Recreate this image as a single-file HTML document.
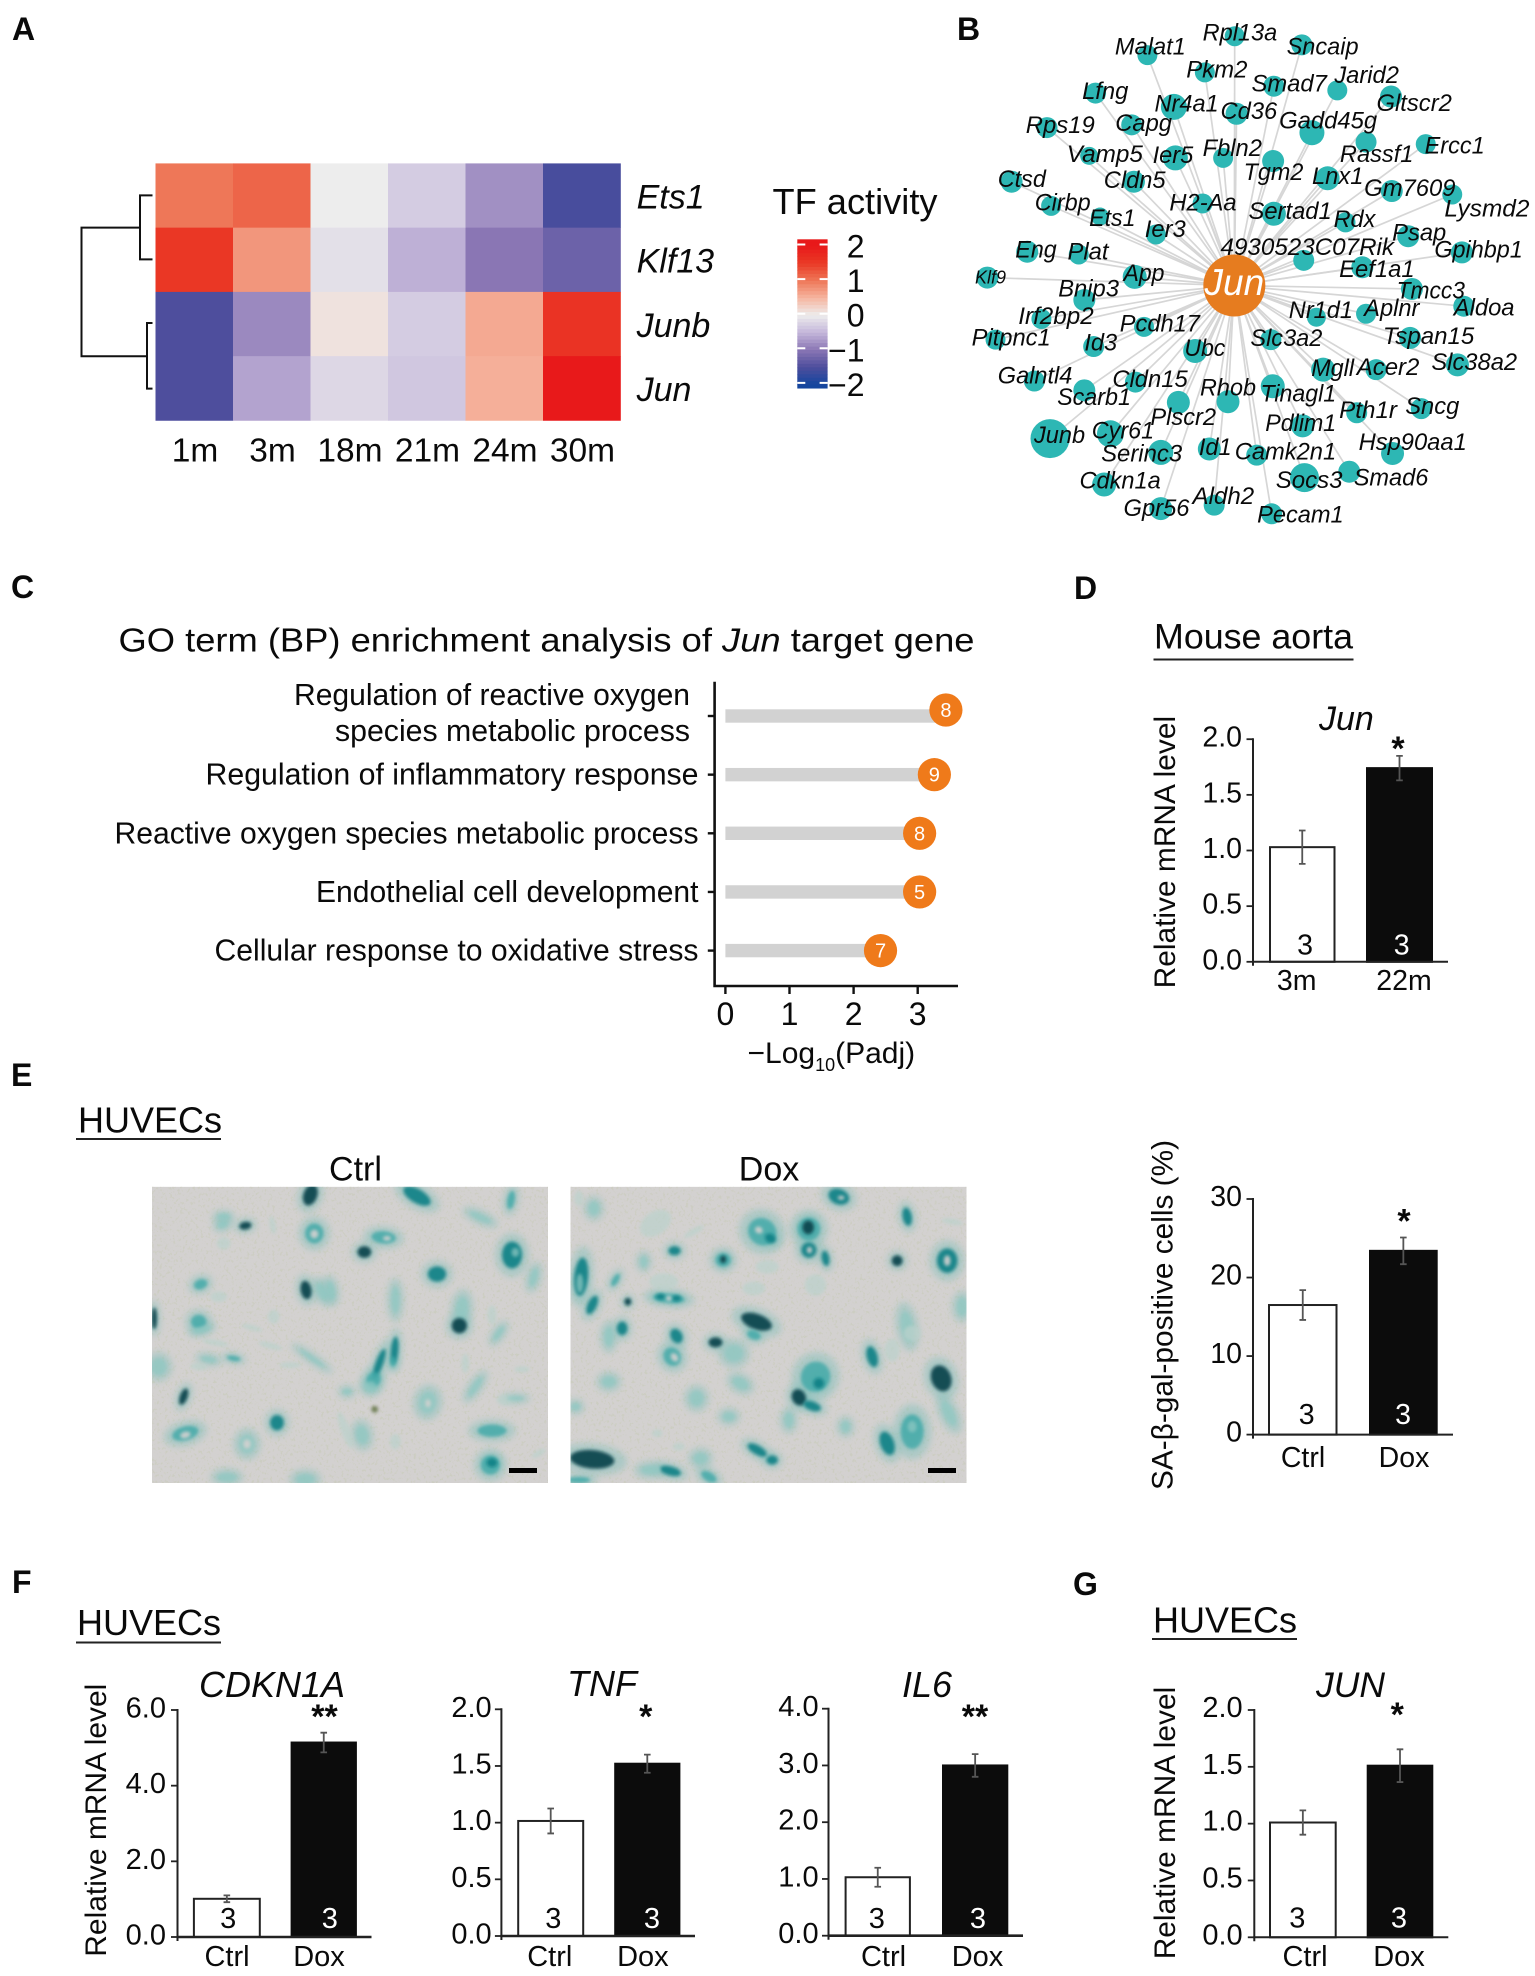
<!DOCTYPE html>
<html lang="en">
<head>
<meta charset="utf-8">
<title>Jun transcription factor activity figure</title>
<style>
html,body{margin:0;padding:0;background:#fff}
svg{display:block}
text{font-family:"Liberation Sans",sans-serif;fill:#0a0a0a}
.pl{font-weight:700;font-size:32px}
</style>
</head>
<body>
<svg id="fig" xmlns="http://www.w3.org/2000/svg" width="1535" height="1976" viewBox="0 0 1535 1976">
<defs>
<filter id="soft" x="-60%" y="-60%" width="220%" height="220%"><feGaussianBlur stdDeviation="5"/></filter>
<filter id="softer" x="-80%" y="-80%" width="260%" height="260%"><feGaussianBlur stdDeviation="10"/></filter>
<filter id="speck" x="0" y="0" width="100%" height="100%">
<feTurbulence type="fractalNoise" baseFrequency="0.13 0.11" numOctaves="3" seed="7"/>
<feColorMatrix type="matrix" values="0 0 0 0 0.58  0 0 0 0 0.60  0 0 0 0 0.48  7 0 0 0 -3.9"/>
</filter>
</defs>
<rect x="0" y="0" width="1535" height="1976" fill="#fff"/>

<text class="pl" x="12" y="40">A</text>
<text class="pl" x="957" y="40">B</text>
<text class="pl" x="11" y="598">C</text>
<text class="pl" x="1074" y="599">D</text>
<text class="pl" x="11" y="1086">E</text>
<text class="pl" x="12" y="1593">F</text>
<text class="pl" x="1073" y="1595">G</text>

<g fill="none" stroke="#111" stroke-width="2">
<path d="M140 227.6H81.5V356.3H147"/>
<path d="M152.5 195.4H140V259.4H152.5"/>
<path d="M152.5 323H147V388.6H152.5"/>
</g>
<text x="772.5" y="214" font-size="36" textLength="165" lengthAdjust="spacingAndGlyphs">TF activity</text>

<g id="panelA"></g>
<g id="panelB"></g>

<text x="118.5" y="651.7" font-size="33.5" textLength="856" lengthAdjust="spacingAndGlyphs">GO term (BP) enrichment analysis of <tspan font-style="italic">Jun</tspan> target gene</text>
<g id="panelC"></g>
<text x="747.5" y="1063" font-size="30">−Log<tspan dy="8" font-size="18">10</tspan><tspan dy="-8">(Padj)</tspan></text>

<text x="1154" y="648.5" font-size="35" textLength="199" lengthAdjust="spacingAndGlyphs">Mouse aorta</text>
<rect x="1153.5" y="658.5" width="200" height="2" fill="#222"/>
<text x="1319" y="730" font-size="34" font-style="italic">Jun</text>
<text transform="translate(1175,988.4) rotate(-90)" font-size="30" textLength="272.5" lengthAdjust="spacingAndGlyphs">Relative mRNA level</text>
<text transform="translate(1172.7,1490) rotate(-90)" font-size="30" textLength="350" lengthAdjust="spacingAndGlyphs">SA-β-gal-positive cells (%)</text>

<text x="78" y="1132.7" font-size="36">HUVECs</text>
<rect x="76" y="1138" width="145" height="2" fill="#222"/>
<text x="355.5" y="1180.7" font-size="34" text-anchor="middle">Ctrl</text>
<text x="769" y="1180.7" font-size="34" text-anchor="middle">Dox</text>
<svg id="imgCtrl" x="152" y="1186.7" width="396" height="296.3" viewBox="0 0 1188 889" preserveAspectRatio="none"></svg>
<svg id="imgDox" x="570.5" y="1186.7" width="396" height="296.3" viewBox="0 0 1188 889" preserveAspectRatio="none"></svg>
<rect x="509" y="1468" width="28" height="5" fill="#000"/>
<rect x="928" y="1468" width="28" height="5" fill="#000"/>

<text x="77" y="1635" font-size="36">HUVECs</text>
<rect x="76" y="1641.5" width="145" height="2" fill="#222"/>
<text transform="translate(106,1956.7) rotate(-90)" font-size="30" textLength="273" lengthAdjust="spacingAndGlyphs">Relative mRNA level</text>
<text x="199" y="1697" font-size="36" font-style="italic">CDKN1A</text>
<text x="567" y="1696" font-size="36" font-style="italic">TNF</text>
<text x="902" y="1697" font-size="36" font-style="italic">IL6</text>

<text x="1153" y="1632.7" font-size="36">HUVECs</text>
<rect x="1152" y="1638" width="145" height="2" fill="#222"/>
<text x="1316" y="1697" font-size="35.5" font-style="italic">JUN</text>
<text transform="translate(1175,1959.3) rotate(-90)" font-size="30" textLength="272.6" lengthAdjust="spacingAndGlyphs">Relative mRNA level</text>

<g id="bars"></g>
</svg>

<script>
/* ---------- heatmap data ---------- */
const heatTimes = ['1m','3m','18m','21m','24m','30m'];
const heatGenes = ['Ets1','Klf13','Junb','Jun'];
const heatEts1  = [1.0, 1.15, 0, -0.3, -0.8, -1.55];
const heatKlf13 = [1.55, 0.75, -0.12, -0.55, -1.0, -1.25];
const heatJunb  = [-1.5, -0.85, 0.1, -0.3, 0.6, 1.6];
const heatJun   = [-1.5, -0.65, -0.2, -0.35, 0.55, 2];
const legendTicks = [2, 1, 0, -1, -2];
const legendTickLabels = ['2','1','0','−1','−2'];

/* ---------- network data (layout units) ---------- */
const geneNames = ['Malat1','Rpl13a','Sncaip','Pkm2','Smad7','Jarid2','Lfng','Gltscr2','Nr4a1','Cd36','Capg','Rps19','Gadd45g','Rassf1','Ercc1','Vamp5','Ier5','Fbln2','Tgm2','Lnx1','Ctsd','Cldn5','Gm7609','Lysmd2','H2-Aa','Cirbp','Ets1','Ier3','Sertad1','Rdx','Psap','Eng','Plat','4930523C07Rik','Gpihbp1','Eef1a1','Klf9','App','Bnip3','Tmcc3','Aldoa','Nr1d1','Aplnr','Irf2bp2','Pcdh17','Pitpnc1','Id3','Ubc','Slc3a2','Tspan15','Slc38a2','Mgll','Acer2','Galntl4','Scarb1','Cldn15','Rhob','Tinagl1','Plscr2','Sncg','Pth1r','Pdlim1','Junb','Cyr61','Hsp90aa1','Id1','Camk2n1','Serinc3','Socs3','Smad6','Cdkn1a','Aldh2','Gpr56','Pecam1'];
const geneLayoutX = [529,763,943,683,868,1038,390,1182,600,768,487,260,970,1115,1275,373,604,732,866,1012,165,493,1184,1346,677,271,402,552,868,1060,1228,207,345,948,1372,1105,100,495,360,1238,1377,982,1115,245,520,122,385,657,860,1233,1360,1000,1142,226,360,497,745,865,612,1263,1090,945,268,430,1186,695,822,565,950,1070,413,708,565,862];
const geneLayoutY = [160,105,130,210,250,262,270,280,310,330,362,370,385,412,418,452,458,458,467,517,527,527,554,564,590,597,628,680,620,645,685,730,738,755,732,775,805,803,870,838,888,920,910,925,948,985,1005,1018,985,980,1058,1072,1072,1105,1132,1108,1165,1120,1167,1185,1197,1235,1272,1258,1315,1302,1320,1312,1385,1368,1405,1465,1475,1490];
const geneNodeSize = [10,10,10.5,10,10.5,10,10.5,11,13,11,10.5,10.5,12.5,10.5,10,9,12.5,10,11,12,11,11,11,10,10,10,9,10,12,10,11,11,10,10.5,11,11,11,12,11,11,10.5,9.5,10,10,10,10,10.5,12,10.5,11,11.5,12,10.5,10.5,11,10.5,11.5,12,11.5,10.5,10.5,11.5,19.5,13.5,11.5,11.5,10.5,12.5,14.5,11,12,10.5,11.5,10.5];
const labelLeft  = [442,677,902,633,808,1030,354,1143,548,725,443,203,882,1045,1272,313,543,677,787,970,128,412,1110,1325,588,227,373,522,800,1028,1185,175,315,725,1298,1043,67,465,290,1197,1350,908,1110,183,455,58,360,628,805,1160,1290,968,1090,128,287,435,670,832,537,1220,1043,845,225,380,1095,667,763,405,873,1082,347,650,465,823];
const labelRight = [632,877,1095,797,1010,1203,478,1345,720,877,595,388,1145,1242,1433,517,652,836,947,1108,257,578,1355,1553,768,377,497,632,1023,1140,1330,286,425,1190,1535,1245,150,575,453,1380,1513,1080,1258,385,670,270,448,738,998,1405,1520,1083,1258,328,485,637,820,1035,713,1365,1198,1035,362,547,1385,755,1035,622,1052,1282,565,815,642,1055];
const labelBase  = [158,118,158,225,265,240,287,322,323,345,380,385,372,470,445,470,472,453,522,533,543,545,568,628,610,610,655,687,635,658,697,747,752,740,747,803,822,815,860,865,915,922,917,940,962,1002,1017,1033,1003,997,1073,1090,1087,1112,1175,1123,1147,1165,1232,1200,1212,1250,1285,1272,1305,1320,1332,1338,1415,1408,1416,1462,1496,1515];
const hubName = 'Jun';

/* ---------- GO lollipop data ---------- */
const goTerms  = ['Regulation of reactive oxygen species metabolic process','Regulation of inflammatory response','Reactive oxygen species metabolic process','Endothelial cell development','Cellular response to oxidative stress'];
const goValues = [3.44, 3.26, 3.03, 3.03, 2.42];
const goCounts = [8, 9, 8, 5, 7];
const goTicks  = [0, 1, 2, 3];

/* ---------- bar chart data ---------- */
const aortaCategories = ['3m','22m'];
const aortaMeans = [1.03, 1.74];
const aortaErrors = [0.15, 0.11];
const aortaN = [3, 3];
const aortaSig = '*';
const aortaTicks = [0, 0.5, 1, 1.5, 2];
const aortaTickLabels = ['0.0','0.5','1.0','1.5','2.0'];

const galCategories = ['Ctrl','Dox'];
const galMeans = [16.5, 23.4];
const galErrors = [1.9, 1.7];
const galN = [3, 3];
const galSig = '*';
const galTicks = [0, 10, 20, 30];
const galTickLabels = ['0','10','20','30'];

const cdknCategories = ['Ctrl','Dox'];
const cdknMeans = [1.01, 5.14];
const cdknErrors = [0.09, 0.26];
const cdknN = [3, 3];
const cdknSig = '**';
const cdknTicks = [0, 2, 4, 6];
const cdknTickLabels = ['0.0','2.0','4.0','6.0'];

const tnfCategories = ['Ctrl','Dox'];
const tnfMeans = [1.015, 1.52];
const tnfErrors = [0.11, 0.08];
const tnfN = [3, 3];
const tnfSig = '*';
const tnfTicks = [0, 0.5, 1, 1.5, 2];
const tnfTickLabels = ['0.0','0.5','1.0','1.5','2.0'];

const il6Categories = ['Ctrl','Dox'];
const il6Means = [1.03, 3.0];
const il6Errors = [0.167, 0.2];
const il6N = [3, 3];
const il6Sig = '**';
const il6Ticks = [0, 1, 2, 3, 4];
const il6TickLabels = ['0.0','1.0','2.0','3.0','4.0'];

const junCategories = ['Ctrl','Dox'];
const junMeans = [1.01, 1.51];
const junErrors = [0.107, 0.144];
const junN = [3, 3];
const junSig = '*';
const junTicks = [0, 0.5, 1, 1.5, 2];
const junTickLabels = ['0.0','0.5','1.0','1.5','2.0'];

/* ---------- helpers ---------- */
const NS = 'http://www.w3.org/2000/svg';
function mk(tag, attrs, parent){
  const el = document.createElementNS(NS, tag);
  for (const k in attrs) el.setAttribute(k, attrs[k]);
  parent.appendChild(el);
  return el;
}
function txt(str, attrs, parent){
  const el = mk('text', attrs, parent);
  el.textContent = str;
  return el;
}
const colorStops = [[-2,[21,70,158]],[-1.5,[78,78,157]],[-1,[138,118,180]],[-0.5,[196,182,218]],[0,[237,237,237]],[0.5,[246,181,160]],[1,[238,119,88]],[1.5,[234,58,38]],[2,[232,25,26]]];
function heatColor(v){
  const c = Math.max(-2, Math.min(2, v));
  for (let i = 0; i < colorStops.length - 1; i++){
    const a = colorStops[i], b = colorStops[i+1];
    if (c <= b[0]){
      const t = (c - a[0]) / (b[0] - a[0]);
      return 'rgb(' + a[1].map((q, j) => Math.round(q + (b[1][j] - q) * t)).join(',') + ')';
    }
  }
  return 'rgb(232,25,26)';
}

/* ---------- panel A ---------- */
(function(){
  const g = document.getElementById('panelA');
  const heatRows = [heatEts1, heatKlf13, heatJunb, heatJun];
  const colX = i => 155.5 + i * 77.5;
  const rowY = j => 163.4 + j * 64.25;
  heatRows.forEach((row, j) => {
    row.forEach((v, i) => {
      const cell = mk('rect', {x: colX(i), y: rowY(j), width: 77.8, height: 64.6, fill: heatColor(v)}, g);
      
      
    });
    const rl = txt(heatGenes[j], {x: 636.6, y: rowY(j) + 45, 'font-size': 34, 'font-style': 'italic'}, g);
    
    
  });
  heatTimes.forEach((t, i) => {
    const cl = txt(t, {x: colX(i) + 39.5, y: 461.5, 'font-size': 33.5, 'text-anchor': 'middle'}, g);
    
    
  });
  const legY = v => 313.7 - v * 34.6;
  for (let k = 0; k < 43; k++){
    const v = 2.15 - k * 0.1;
    const band = mk('rect', {x: 797.3, y: legY(v), width: 30.3, height: 3.9, fill: heatColor(v)}, g);
    
    
  }
  legendTicks.forEach((v, i) => {
    const tk = mk('path', {d: 'M797.3 ' + legY(v) + 'h8M819.6 ' + legY(v) + 'h8', stroke: '#fff', 'stroke-width': 2, fill: 'none'}, g);
    
    
    const tl = txt(legendTickLabels[i], {x: 864.5, y: legY(v) + 13, 'font-size': 32, 'text-anchor': 'end'}, g);
    
    
  });
})();

/* ---------- panel B ---------- */
(function(){
  const g = document.getElementById('panelB');
  const nx = v => 950 + v / 2.68;
  const ny = v => v / 2.9;
  const hx = nx(762), hy = ny(828);
  geneNames.forEach((n, i) => {
    const edge = mk('line', {x1: hx, y1: hy, x2: nx(geneLayoutX[i]), y2: ny(geneLayoutY[i]), stroke: '#d6d6d6', 'stroke-width': 1.7}, g);
    
    
  });
  geneNames.forEach((n, i) => {
    const node = mk('circle', {cx: nx(geneLayoutX[i]), cy: ny(geneLayoutY[i]), r: geneNodeSize[i], fill: '#2db7b4'}, g);
    
    
  });
  geneNames.forEach((n, i) => {
    const tl = txt(n, {x: nx(labelLeft[i]), y: ny(labelBase[i]), 'font-size': n === 'Klf9' ? 18 : 24, 'font-style': 'italic', textLength: ((labelRight[i] - labelLeft[i]) / 2.68).toFixed(1), lengthAdjust: 'spacingAndGlyphs'}, g);
    
    
  });
  const hub = mk('circle', {cx: hx, cy: hy, r: 31, fill: '#e67c1f'}, g);
  
  
  const hubLabel = txt(hubName, {x: hx, y: ny(855), 'font-size': 37, 'font-style': 'italic', 'text-anchor': 'middle', style: 'fill:#fff'}, g);
  
  
})();

/* ---------- panel C ---------- */
(function(){
  const g = document.getElementById('panelC');
  const xs = v => 725.4 + v * 64.1;
  const ys = i => 716 + i * 58.65;
  const spine = mk('path', {d: 'M714.6 681.7V986H958', fill: 'none', stroke: '#111', 'stroke-width': 2.6}, g);
  
  
  goTicks.forEach(t => {
    const tk = mk('line', {x1: xs(t), x2: xs(t), y1: 986, y2: 994, stroke: '#111', 'stroke-width': 2.4}, g);
    
    
    const tl = txt(String(t), {x: xs(t), y: 1025, 'font-size': 32, 'text-anchor': 'middle'}, g);
    
    
  });
  const widths = [null, 493, 584, 382.5, 484];
  goTerms.forEach((term, i) => {
    const tk = mk('line', {x1: 707.8, x2: 714.6, y1: ys(i), y2: ys(i), stroke: '#111', 'stroke-width': 2.4}, g);
    
    
    if (i === 0){
      const words = term.split(' ');
      const l1 = txt(words.slice(0, 4).join(' '), {x: 690, y: 705, 'font-size': 31, 'text-anchor': 'end', textLength: 396, lengthAdjust: 'spacingAndGlyphs'}, g);
      
      
      const l2 = txt(words.slice(4).join(' '), {x: 690, y: 741, 'font-size': 31, 'text-anchor': 'end', textLength: 355, lengthAdjust: 'spacingAndGlyphs'}, g);
      
      
    } else {
      const l = txt(term, {x: 698.5, y: ys(i) + 10, 'font-size': 31, 'text-anchor': 'end', textLength: widths[i], lengthAdjust: 'spacingAndGlyphs'}, g);
      
      
    }
    const stem = mk('rect', {x: xs(0), y: ys(i) - 6.7, width: xs(goValues[i]) - xs(0), height: 13.4, fill: '#d2d2d2'}, g);
    
    
    const cy = ys(i) - (i === 0 ? 6 : 0);
    const dot = mk('circle', {cx: xs(goValues[i]), cy: cy, r: 16.6, fill: '#ef7a1a'}, g);
    
    
    const cnt = txt(String(goCounts[i]), {x: xs(goValues[i]), y: cy + 7, 'font-size': 20, 'text-anchor': 'middle', style: 'fill:#fff'}, g);
    
    
  });
})();

/* ---------- micrographs ---------- */
const ctrlCellX  = [475,795,1077,985,215,212,280,362,487,487,695,705,637,1080,1090,855,146,462,510,537,730,1145,7,140,150,365,930,922,728,723,682,665,655,20,170,245,190,355,480,415,300,140,95,375,100,100,285,285,827,828,1020,1015,1020,225,460,970,630,580,585,730,1110,1040,1160,940,1020,200,215,1060,1090,668];
const ctrlCellY  = [25,28,40,92,90,113,117,115,140,142,152,155,196,205,197,262,293,310,315,312,340,272,395,405,428,390,365,417,490,525,530,578,600,540,518,515,468,477,515,535,423,540,630,708,740,745,772,772,647,650,732,835,828,872,878,600,745,730,615,765,548,440,800,530,385,330,170,640,635,668];
const ctrlCellRX = [18,40,10,30,16,14,16,8,24,12,32,12,18,26,10,24,18,14,12,11,11,10,7,20,22,15,16,20,10,8,10,18,16,20,20,18,35,32,40,28,28,22,10,18,35,16,20,11,22,8,38,25,14,25,24,9,16,12,12,14,20,8,20,10,12,22,18,22,22,9];
const ctrlCellRY = [28,18,24,9,8,10,10,24,26,13,16,7,15,35,12,20,13,24,24,24,35,24,28,18,8,18,30,20,35,14,40,20,14,22,8,7,8,8,6,8,7,9,22,20,18,10,24,14,28,12,16,25,12,12,14,30,24,50,8,20,8,22,8,25,25,14,16,14,6,9];
const ctrlCellAngle = [20,30,10,25,0,-20,-10,-10,0,0,5,0,0,0,0,0,-20,-10,-25,-10,0,15,0,0,-15,0,5,0,5,0,20,35,0,0,10,10,10,15,35,0,15,5,20,0,-15,-15,0,0,10,0,0,0,0,0,0,35,-10,-20,0,0,0,35,-30,0,0,0,0,0,0,0];
const ctrlCellTone = [0,1,2,3,3,3,0,5,2,4,2,4,0,1,3,1,2,0,3,3,3,3,0,2,3,5,3,0,1,2,1,2,3,3,3,2,5,5,3,5,5,5,0,1,2,4,3,4,3,4,2,2,1,3,3,3,3,5,3,5,5,3,5,5,5,5,5,5,3,6];

const doxCellX  = [805,812,1010,715,713,575,565,600,715,717,765,1130,1130,255,312,458,458,980,32,28,135,295,270,318,295,65,172,155,558,318,435,115,305,312,905,490,550,115,735,745,1112,685,725,378,1025,1025,950,560,605,65,300,415,240,390,1135,1010,1025,1175,965,735,550,590,280,70,25,220,370,475,655,825,1145,15,260,325,510,25];
const doxCellY  = [30,33,90,127,122,135,130,155,190,190,215,222,222,110,192,220,218,222,270,290,280,335,330,335,335,355,345,425,405,448,467,450,510,512,510,500,445,585,570,590,575,632,658,635,735,720,770,790,820,818,853,870,850,815,680,420,440,360,490,295,305,240,285,65,35,225,135,690,700,720,105,660,740,780,590,880];
const doxCellRX = [28,10,12,30,15,38,12,15,20,8,10,27,10,45,16,20,8,14,18,9,8,42,12,12,8,12,9,14,42,15,18,12,22,10,14,24,18,18,38,14,26,18,24,18,30,12,18,28,15,58,28,22,25,18,14,16,22,14,20,28,30,30,38,14,12,10,30,16,12,12,28,12,14,16,22,30];
const doxCellRY = [20,6,24,30,18,35,10,12,20,10,20,32,16,30,12,18,10,14,50,25,18,12,8,8,8,26,10,18,20,20,13,25,25,14,28,22,12,14,40,14,35,22,12,20,45,15,32,12,12,24,12,12,12,15,35,40,20,24,30,28,18,18,22,18,20,15,8,12,20,15,8,10,10,10,14,8];
const doxCellAngle = [20,0,-10,0,0,35,30,30,0,0,-10,0,0,-35,0,0,0,0,5,0,30,5,0,0,0,25,0,0,20,-30,0,0,-35,-35,-15,0,20,0,30,0,-20,-25,20,0,0,0,-20,30,0,5,15,30,0,0,-25,-10,0,0,0,0,0,0,0,0,0,0,-30,0,0,0,10,0,0,0,30,0];
const doxCellTone = [1,4,1,2,0,2,4,1,1,4,1,1,4,5,1,2,0,0,1,3,2,2,1,1,4,1,0,1,0,1,0,3,2,4,1,3,2,3,2,1,0,0,1,3,2,3,1,1,1,0,1,2,3,3,3,3,5,3,5,5,5,5,5,3,5,3,5,3,3,3,5,3,5,5,3,2];

const toneFill  = ['#07474f','#0f8085','#3fa9a8','#8fc8c2','#d3d1d0','#bcd2cc','#6a7a50'];
const toneAlpha = [0.95, 0.9, 0.82, 0.72, 0.9, 0.72, 0.9];

function drawMicrograph(id, cx, cy, rx, ry, ang, tone, prefix){
  const s = document.getElementById(id);
  const base = mk('rect', {x: 0, y: 0, width: 1188, height: 889, fill: '#d3d1d0'}, s);
  
  
  const tex = mk('rect', {x: 0, y: 0, width: 1188, height: 889, filter: 'url(#speck)', opacity: 0.55}, s);
  
  
  cx.forEach((x, i) => {
    if (tone[i] > 3) return;
    const halo = mk('ellipse', {cx: x, cy: cy[i], rx: rx[i] * 1.7 + 6, ry: ry[i] * 1.7 + 6, fill: '#74bdb8', opacity: 0.42, filter: 'url(#softer)', transform: 'rotate(' + ang[i] + ' ' + x + ' ' + cy[i] + ')'}, s);
    
    
  });
  cx.forEach((x, i) => {
    const k = tone[i] === 4 ? 1 : 1.15;
    const e = mk('ellipse', {cx: x, cy: cy[i], rx: rx[i] * k, ry: ry[i] * k, fill: toneFill[tone[i]], opacity: toneAlpha[tone[i]], filter: 'url(#soft)', transform: 'rotate(' + ang[i] + ' ' + x + ' ' + cy[i] + ')'}, s);
    
    
  });
}
drawMicrograph('imgCtrl', ctrlCellX, ctrlCellY, ctrlCellRX, ctrlCellRY, ctrlCellAngle, ctrlCellTone, 'ctrl');
drawMicrograph('imgDox', doxCellX, doxCellY, doxCellRX, doxCellRY, doxCellAngle, doxCellTone, 'dox');

/* ---------- bar charts ---------- */
const barCharts = [
 {id:'aorta', cats:aortaCategories, means:aortaMeans, errs:aortaErrors, n:aortaN, sig:aortaSig, ticks:aortaTicks, tickLabels:aortaTickLabels,
  axisX:1253, y0:961.8, yT:739.2, xEnd:1448, bar:[1270,1367], barW:[64.5,65], num:[1305,1401.7], numBase:954.6, cat:[1296.7,1404], catBase:990, sigX:1398, sigY:745, font:28.5, tickDy:7.5, tickRight:1242, hw:2},
 {id:'sa-gal', cats:galCategories, means:galMeans, errs:galErrors, n:galN, sig:galSig, ticks:galTicks, tickLabels:galTickLabels,
  axisX:1253, y0:1434.6, yT:1199, xEnd:1453, bar:[1269,1370], barW:[67.5,66.7], num:[1306.7,1403], numBase:1424, cat:[1303,1404], catBase:1467, sigX:1404, sigY:1217.7, font:28.5, tickDy:7, tickRight:1242, hw:2},
 {id:'cdkn1a', cats:cdknCategories, means:cdknMeans, errs:cdknErrors, n:cdknN, sig:cdknSig, ticks:cdknTicks, tickLabels:cdknTickLabels,
  axisX:177.5, y0:1937, yT:1710, xEnd:371.5, bar:[193.9,291.6], barW:[65.9,64.3], num:[228.2,329.8], numBase:1928, cat:[227,319], catBase:1966, sigX:324.5, sigY:1713, font:29, tickDy:7.5, tickRight:166, hw:2.6},
 {id:'tnf', cats:tnfCategories, means:tnfMeans, errs:tnfErrors, n:tnfN, sig:tnfSig, ticks:tnfTicks, tickLabels:tnfTickLabels,
  axisX:501.4, y0:1936, yT:1709.3, xEnd:695, bar:[518.2,615.2], barW:[65,64.2], num:[553.3,651.9], numBase:1928, cat:[549.8,642.9], catBase:1966, sigX:645.7, sigY:1713, font:29, tickDy:7.5, tickRight:491.7, hw:2.6},
 {id:'il6', cats:il6Categories, means:il6Means, errs:il6Errors, n:il6N, sig:il6Sig, ticks:il6Ticks, tickLabels:il6TickLabels,
  axisX:828.5, y0:1935.7, yT:1708.7, xEnd:1023, bar:[845.6,943],  barW:[64.3,64.3], num:[876.8,978], numBase:1928, cat:[883.5,977.5], catBase:1966, sigX:975, sigY:1713, font:29, tickDy:7.5, tickRight:818.6, hw:2.6},
 {id:'jun-huvec', cats:junCategories, means:junMeans, errs:junErrors, n:junN, sig:junSig, ticks:junTicks, tickLabels:junTickLabels,
  axisX:1254.3, y0:1937.3, yT:1710, xEnd:1448.3, bar:[1270,1367.7], barW:[65.7,64.6], num:[1297.3,1399], numBase:1927.3, cat:[1305,1399], catBase:1966, sigX:1397.3, sigY:1711, font:29, tickDy:7, tickRight:1242.7, hw:2}
];
barCharts.forEach(c => {
  const g = document.getElementById('bars');
  const top = c.ticks[c.ticks.length - 1];
  const y = v => c.y0 - (v / top) * (c.y0 - c.yT);
  c.means.forEach((m, i) => {
    const filled = i === 1;
    const b = mk('rect', {x: c.bar[i], y: y(m), width: c.barW[i], height: c.y0 - y(m), fill: filled ? '#0c0c0c' : '#fff', stroke: filled ? '#0c0c0c' : '#222', 'stroke-width': 2}, g);
    
    
    const ex = c.bar[i] + c.barW[i] / 2;
    const hi = y(m + c.errs[i]), lo = y(m - c.errs[i]);
    const eb = mk('path', {d: 'M' + ex + ' ' + hi + 'V' + lo + 'M' + (ex - 3.3) + ' ' + hi + 'h6.6M' + (ex - 3.3) + ' ' + lo + 'h6.6', fill: 'none', stroke: '#555', 'stroke-width': 1.8}, g);
    
    
    const nl = txt(String(c.n[i]), {x: c.num[i], y: c.numBase, 'font-size': c.font, 'text-anchor': 'middle', style: 'fill:' + (filled ? '#fff' : '#0a0a0a')}, g);
    
    
    const cl = txt(c.cats[i], {x: c.cat[i], y: c.catBase, 'font-size': c.font, 'text-anchor': 'middle'}, g);
    
    
  });
  const ya = mk('line', {x1: c.axisX, x2: c.axisX, y1: c.yT - 1, y2: c.y0 + 4, stroke: '#222', 'stroke-width': 2}, g);
  
  
  const xa = mk('line', {x1: c.axisX - 1, x2: c.xEnd, y1: c.y0, y2: c.y0, stroke: '#222', 'stroke-width': c.hw}, g);
  
  
  c.ticks.forEach((t, i) => {
    const tk = mk('line', {x1: c.axisX - 6.5, x2: c.axisX, y1: y(t), y2: y(t), stroke: '#222', 'stroke-width': 1.8}, g);
    
    
    const tl = txt(c.tickLabels[i], {x: c.tickRight, y: y(t) + c.tickDy, 'font-size': c.font, 'text-anchor': 'end'}, g);
    
    
  });
  const s = txt(c.sig, {x: c.sigX, y: c.sigY + 15, 'font-size': 34, 'font-weight': 700, 'text-anchor': 'middle'}, g);
  
  
});
</script>
</body>
</html>
